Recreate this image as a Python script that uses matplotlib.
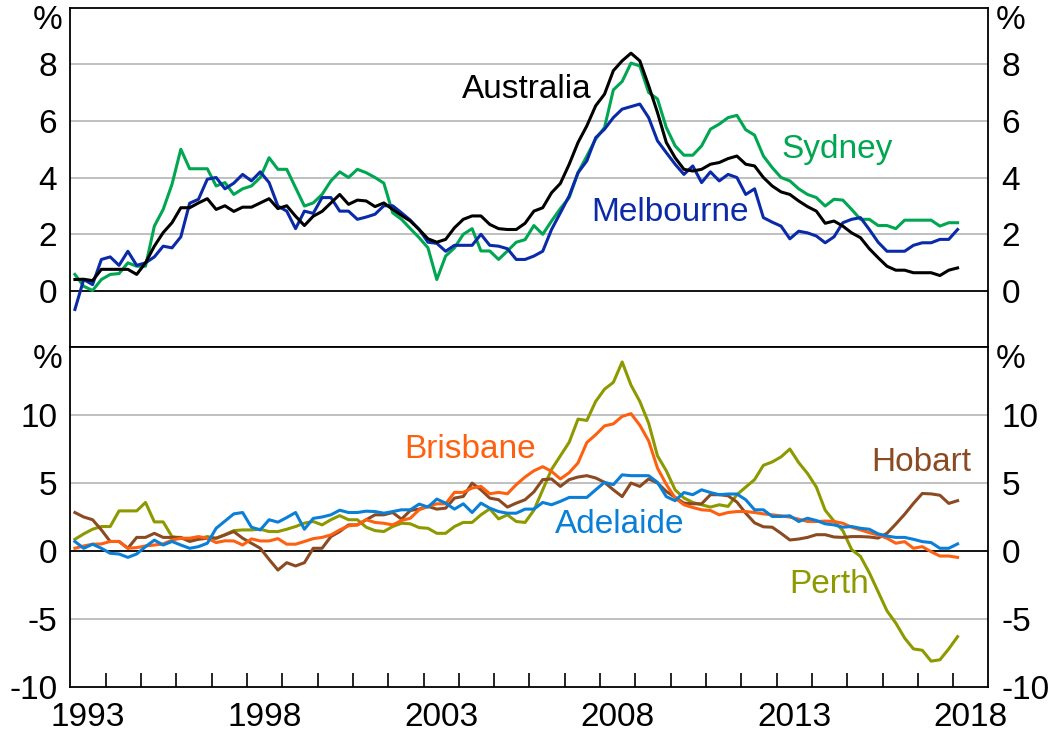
import numpy as np
import matplotlib
matplotlib.use("Agg")
from matplotlib import pyplot as plt
from matplotlib import transforms

plt.rcParams['font.family'] = ['Liberation Sans', 'DejaVu Sans']
plt.rcParams['axes.unicode_minus'] = False

# quarterly, 1993 Q1 to 2018 Q1, year-ended % change
australia = [0.39, 0.4, 0.35, 0.75, 0.75, 0.75, 0.75, 0.57, 0.98, 1.57, 2.05, 2.4, 2.93, 2.93, 3.1, 3.25, 2.87, 3.0,
             2.8, 2.95, 2.95, 3.1, 3.25, 2.9, 3.0, 2.63, 2.3, 2.63, 2.8, 3.1, 3.4, 3.05, 3.2, 3.17, 2.97, 3.1,
             2.87, 2.66, 2.46, 2.16, 1.83, 1.71, 1.81, 2.22, 2.52, 2.64, 2.64, 2.34, 2.19, 2.16, 2.16, 2.38, 2.81, 2.93,
             3.46, 3.79, 4.47, 5.24, 5.83, 6.54, 6.95, 7.78, 8.13, 8.4, 8.13, 7.25, 6.3, 5.24, 4.7, 4.29, 4.23, 4.29,
             4.47, 4.53, 4.67, 4.76, 4.47, 4.41, 4.0, 3.7, 3.49, 3.4, 3.17, 2.97, 2.81, 2.38, 2.46, 2.28, 2.04, 1.87,
             1.48, 1.16, 0.86, 0.72, 0.72, 0.63, 0.63, 0.63, 0.53, 0.72, 0.8]
sydney = [0.57, 0.15, 0.0, 0.39, 0.57, 0.6, 0.98, 0.86, 0.86, 2.28, 2.87, 3.76, 5.0, 4.31, 4.31, 4.31, 3.7, 3.82,
          3.4, 3.6, 3.7, 4.0, 4.7, 4.29, 4.29, 3.64, 2.99, 3.1, 3.4, 3.88, 4.2, 4.0, 4.29, 4.17, 4.0, 3.8,
          2.75, 2.52, 2.19, 1.87, 1.51, 0.39, 1.22, 1.51, 1.99, 2.19, 1.4, 1.4, 1.1, 1.4, 1.71, 1.8, 2.3, 1.99,
          2.46, 2.9, 3.29, 4.17, 4.76, 5.36, 5.77, 7.1, 7.4, 8.05, 7.95, 7.01, 6.78, 5.77, 5.12, 4.79, 4.79, 5.12,
          5.71, 5.89, 6.12, 6.2, 5.69, 5.5, 4.76, 4.35, 4.0, 3.88, 3.6, 3.4, 3.29, 2.99, 3.23, 3.2, 2.87, 2.52,
          2.52, 2.3, 2.3, 2.19, 2.49, 2.49, 2.49, 2.49, 2.28, 2.4, 2.4]
melbourne = [-0.67, 0.39, 0.21, 1.1, 1.19, 0.89, 1.39, 0.89, 0.98, 1.19, 1.57, 1.51, 1.9, 3.09, 3.23, 3.94, 4.0, 3.6,
             3.8, 4.11, 3.88, 4.2, 3.82, 2.99, 2.81, 2.19, 2.81, 2.73, 3.29, 3.29, 2.81, 2.81, 2.52, 2.6, 2.7, 3.0,
             3.0, 2.75, 2.49, 2.16, 1.71, 1.67, 1.39, 1.6, 1.6, 1.6, 1.99, 1.6, 1.57, 1.48, 1.1, 1.1, 1.22, 1.39,
             2.16, 2.75, 3.35, 4.17, 4.59, 5.41, 5.71, 6.12, 6.42, 6.51, 6.6, 6.12, 5.3, 4.88, 4.47, 4.11, 4.41, 3.82,
             4.2, 3.88, 4.11, 4.0, 3.4, 3.6, 2.58, 2.42, 2.28, 1.83, 2.1, 2.04, 1.93, 1.69, 1.9, 2.4, 2.52, 2.58,
             2.16, 1.71, 1.39, 1.39, 1.39, 1.6, 1.69, 1.69, 1.81, 1.81, 2.16]

perth = [0.86, 1.26, 1.6, 1.8, 1.8, 2.95, 2.95, 2.95, 3.57, 2.14, 2.14, 1.06, 0.94, 0.8, 0.9, 1.06, 0.94, 1.2,
         1.5, 1.55, 1.55, 1.6, 1.43, 1.43, 1.6, 1.8, 2.05, 2.17, 1.92, 2.3, 2.6, 2.3, 2.3, 1.75, 1.5,
         1.43, 1.8, 2.04, 2.0, 1.72, 1.67, 1.3, 1.3, 1.8, 2.1, 2.1, 2.66, 3.1, 2.36, 2.66, 2.17, 2.1,
         3.0, 4.5, 6.0, 7.0, 8.0, 9.7, 9.6, 11.0, 11.9, 12.4, 13.9, 12.2, 11.0, 9.4, 7.0, 5.9, 4.5, 3.9,
         3.57, 3.4, 3.23, 3.4, 3.28, 4.14, 4.7, 5.25, 6.3, 6.55, 6.92, 7.5, 6.5, 5.7, 4.7, 3.0,
         2.2, 1.5, 0.1, -0.4, -1.6, -3.0, -4.4, -5.3, -6.4, -7.2, -7.3, -8.1, -8.0, -7.2, -6.3]
brisbane = [0.2, 0.37, 0.5, 0.52, 0.7, 0.7, 0.2, 0.25, 0.37, 0.44, 0.52, 0.8, 0.94, 0.94, 1.06, 0.94, 0.62, 0.75,
            0.74, 0.44, 0.89, 0.74, 0.74, 0.91, 0.5, 0.5, 0.7, 0.91, 1.0, 1.18, 1.55, 1.85, 1.92, 2.3, 2.1,
            2.04, 1.92, 2.24, 2.41, 3.03, 3.28, 3.47, 3.47, 4.31, 4.31, 4.63, 4.75, 4.21, 4.31, 4.21, 4.88, 5.44,
            5.9, 6.2, 5.86, 5.3, 5.76, 6.48, 7.98, 8.55, 9.2, 9.35, 9.9, 10.1, 9.25, 8.1, 6.1, 4.9, 3.9, 3.4,
            3.2, 3.03, 2.98, 2.66, 2.83, 2.9, 2.9, 2.83, 2.73, 2.66, 2.59, 2.49, 2.34, 2.17, 2.17, 2.2,
            2.17, 2.04, 1.75, 1.55, 1.35, 1.18, 0.94, 0.57, 0.69, 0.2, 0.32, -0.05, -0.37, -0.37, -0.47]
adelaide = [0.7, 0.2, 0.5, 0.2, -0.17, -0.22, -0.47, -0.22, 0.32, 0.8, 0.44, 0.7, 0.44, 0.2, 0.32, 0.57, 1.67, 2.2,
            2.73, 2.83, 1.75, 1.55, 2.3, 2.12, 2.46, 2.83, 1.6, 2.4, 2.5, 2.66, 3.0, 2.83, 2.83, 2.93, 2.9,
            2.78, 2.9, 3.03, 3.03, 3.45, 3.23, 3.82, 3.52, 3.08, 3.47, 2.83, 3.52, 3.15, 2.9, 2.78, 2.78, 3.08,
            3.08, 3.57, 3.4, 3.65, 3.94, 3.94, 3.94, 4.5, 5.05, 4.88, 5.6, 5.54, 5.54, 5.54, 5.05, 4.0, 3.7, 4.3,
            4.14, 4.5, 4.3, 4.14, 4.19, 4.19, 3.77, 3.03, 3.03, 2.54, 2.54, 2.59, 2.17, 2.41, 2.24, 2.0,
            1.92, 1.75, 1.8, 1.67, 1.6, 1.26, 1.1, 1.0, 1.0, 0.86, 0.69, 0.62, 0.2, 0.2, 0.52]
hobart = [2.83, 2.5, 2.3, 1.55, 0.7, 0.7, 0.2, 1.0, 1.0, 1.3, 1.0, 1.0, 1.0, 0.7, 0.86, 0.94, 0.94, 1.18,
          1.43, 0.94, 0.57, 0.2, -0.62, -1.4, -0.86, -1.1, -0.86, 0.2, 0.2, 1.06, 1.43, 1.92, 1.92, 2.3, 2.66,
          2.66, 2.83, 2.34, 2.98, 3.08, 3.28, 3.08, 3.15, 3.89, 4.01, 4.99, 4.5, 3.89, 3.77, 3.23, 3.52, 3.77,
          4.35, 5.25, 5.3, 4.75, 5.25, 5.44, 5.54, 5.37, 5.05, 4.5, 4.0, 5.0, 4.75, 5.3, 5.0, 4.38, 3.95, 3.52,
          3.47, 3.47, 4.14, 4.14, 4.06, 3.6, 2.78, 2.07, 1.78, 1.75, 1.3, 0.81, 0.88, 1.0, 1.2, 1.2,
          1.03, 1.0, 1.06, 1.06, 1.03, 0.95, 1.3, 1.98, 2.7, 3.5, 4.23, 4.2, 4.1, 3.5, 3.7]

year_labels = ['1993', '1998', '2003', '2008', '2013', '2018']

# quarter mid-points
dates = 1993.125 + 0.25 * np.arange(len(australia))

c_syd = '#00a651'
c_mel = '#0a2aa8'
c_aus = 'black'
c_bri = '#ff6010'
c_ade = '#0a7fd8'
c_hob = '#8b4a22'
c_per = '#8c9a00'

fs = 24
lw = 2.2

fig = plt.figure(figsize=(10.49, 7.39), dpi=100)
ax1 = fig.add_axes([0.0672, 0.5304, 0.8751, 0.4588])
ax2 = fig.add_axes([0.0672, 0.0704, 0.8751, 0.46])

# top panel
for g in [2, 4, 6, 8]:
    ax1.axhline(g, color='#c0c0c0', lw=1.4, zorder=1)
ax1.axhline(0, color='black', lw=1.3, zorder=1)
ax1.plot(dates, sydney, color=c_syd, lw=lw, zorder=3)
ax1.plot(dates, melbourne, color=c_mel, lw=lw, zorder=3)
ax1.plot(dates, australia, color=c_aus, lw=lw, zorder=4)
ax1.set_ylim(-2, 10)
ax1.set_yticks([0, 2, 4, 6, 8])
ax1.text(2005.92, 7.1, 'Australia', color=c_aus, fontsize=fs, ha='center', va='center')
ax1.text(2014.7, 5.0, 'Sydney', color=c_syd, fontsize=fs, ha='center', va='center')
ax1.text(2009.98, 2.75, 'Melbourne', color=c_mel, fontsize=fs, ha='center', va='center')

# bottom panel
for g in [-5, 5, 10]:
    ax2.axhline(g, color='#c0c0c0', lw=1.4, zorder=1)
ax2.axhline(0, color='black', lw=1.3, zorder=1)
ax2.plot(dates, perth, color=c_per, lw=lw, zorder=3)
ax2.plot(dates, hobart, color=c_hob, lw=lw, zorder=3)
ax2.plot(dates, brisbane, color=c_bri, lw=lw, zorder=3)
ax2.plot(dates, adelaide, color=c_ade, lw=lw, zorder=4)
ax2.set_ylim(-10, 15)
ax2.set_yticks([-10, -5, 0, 5, 10])
ax2.text(2004.31, 7.46, 'Brisbane', color=c_bri, fontsize=fs, ha='center', va='center')
ax2.text(2008.56, 1.92, 'Adelaide', color=c_ade, fontsize=fs, ha='center', va='center')
ax2.text(2017.09, 6.5, 'Hobart', color=c_hob, fontsize=fs, ha='center', va='center')
ax2.text(2014.5, -2.5, 'Perth', color=c_per, fontsize=fs, ha='center', va='center')

for ax in (ax1, ax2):
    ax.set_xlim(1993, 2019)
    for s in ax.spines.values():
        s.set_color('black')
        s.set_linewidth(1.3)
    ax.tick_params(axis='y', left=False, right=False, labelleft=True, labelright=True,
                   labelsize=fs, pad=6)
    # % unit labels
    tr = transforms.blended_transform_factory(fig.transFigure, ax.transAxes)
    ax.text(48 / 1049, 0.962, '%', transform=tr, fontsize=fs, ha='center', va='center')
    ax.text(1011 / 1049, 0.962, '%', transform=tr, fontsize=fs, ha='center', va='center')

ax1.tick_params(axis='x', which='both', bottom=False, labelbottom=False)

ax2.set_xticks(np.arange(1994, 2019))
ax2.set_xticklabels([])
ax2.set_xticks([int(y) + 0.5 for y in year_labels], minor=True)
ax2.set_xticklabels(year_labels, minor=True)
ax2.tick_params(axis='x', which='major', direction='in', length=10, width=1.2, color='black')
ax2.tick_params(axis='x', which='minor', length=0, labelsize=fs, pad=11)

fig.savefig('out.png', dpi=100)
